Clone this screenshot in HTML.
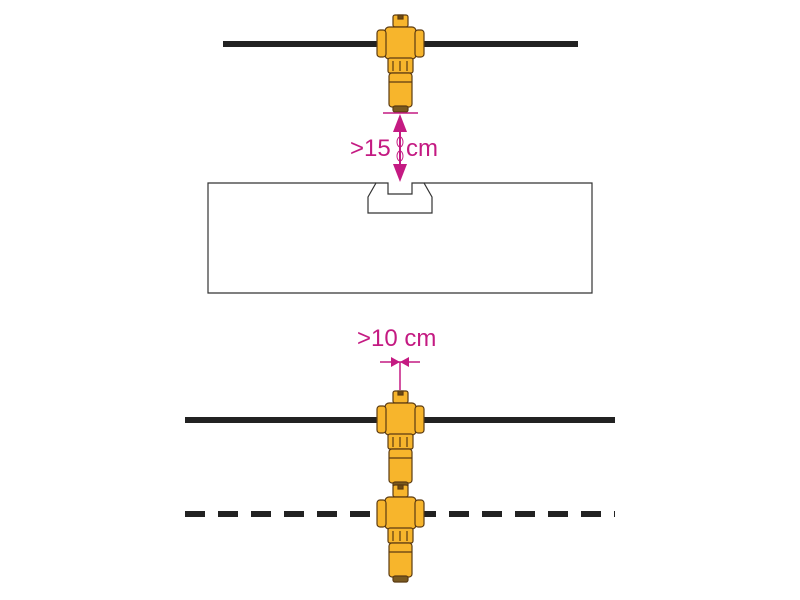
<!DOCTYPE html>
<html><head><style>html,body{margin:0;padding:0;background:#fff}svg{display:block}</style></head>
<body>
<svg width="800" height="600" viewBox="0 0 800 600" xmlns="http://www.w3.org/2000/svg">
<defs>
<g id="v" stroke="#5b3b12" stroke-width="1.2" fill="#f7b52c">
  <rect x="393" y="15" width="15" height="12" rx="2"/>
  <rect x="398" y="15" width="5" height="4" fill="#6b4a15"/>
  <rect x="385" y="27" width="31" height="32" rx="4"/>
  <rect x="377" y="30" width="9" height="27" rx="3"/>
  <rect x="415" y="30" width="9" height="27" rx="3"/>
  <rect x="388" y="58" width="25" height="15" rx="2"/>
  <line x1="393" y1="61" x2="393" y2="71"/><line x1="400" y1="61" x2="400" y2="71"/><line x1="407" y1="61" x2="407" y2="71"/>
  <rect x="389" y="73" width="23" height="34" rx="3"/>
  <line x1="389" y1="82" x2="412" y2="82"/>
  <rect x="393" y="106" width="15" height="6" rx="2" fill="#7a5a20"/>
</g>
</defs>
<rect x="223" y="41" width="355" height="6" fill="#222"/>
<use href="#v"/>
<g stroke="#c41a82" fill="#c41a82">
  <line x1="383" y1="113" x2="418" y2="113" stroke-width="1.5"/>
  <line x1="400" y1="120" x2="400" y2="176" stroke-width="2"/>
  <polygon points="400,114 393,132 407,132" stroke="none"/>
  <polygon points="400,182 393,164 407,164" stroke="none"/>
</g>
<text x="350" y="156" font-family="Liberation Sans, sans-serif" font-size="24" fill="#c41a82">&gt;15</text>
<text x="406" y="156" font-family="Liberation Sans, sans-serif" font-size="24" fill="#c41a82">cm</text>
<ellipse cx="400" cy="142" rx="3" ry="5" fill="none" stroke="#c41a82"/>
<ellipse cx="400" cy="156" rx="3" ry="5" fill="none" stroke="#c41a82"/>
<path d="M376,183 H208 V293 H592 V183 H424" fill="none" stroke="#333" stroke-width="1.2"/>
<path d="M376,183 L368,197 V213 H432 V197 L424,183 H412 V194 H388 V183 Z" fill="#fff" stroke="#333" stroke-width="1.2"/>
<text x="357" y="346" font-family="Liberation Sans, sans-serif" font-size="24" fill="#c41a82">&gt;10 cm</text>
<g stroke="#c41a82" fill="#c41a82">
  <line x1="380" y1="362" x2="420" y2="362" stroke-width="1.5"/>
  <line x1="400" y1="362" x2="400" y2="390" stroke-width="1.5"/>
  <polygon points="391,357 400,362 391,367" stroke="none"/>
  <polygon points="409,357 400,362 409,367" stroke="none"/>
</g>
<rect x="185" y="417" width="430" height="6" fill="#222"/>
<use href="#v" transform="translate(0,376)"/>
<line x1="185" y1="514" x2="615" y2="514" stroke="#222" stroke-width="6" stroke-dasharray="20,13"/>
<use href="#v" transform="translate(0,470)"/>
</svg>
</body></html>
